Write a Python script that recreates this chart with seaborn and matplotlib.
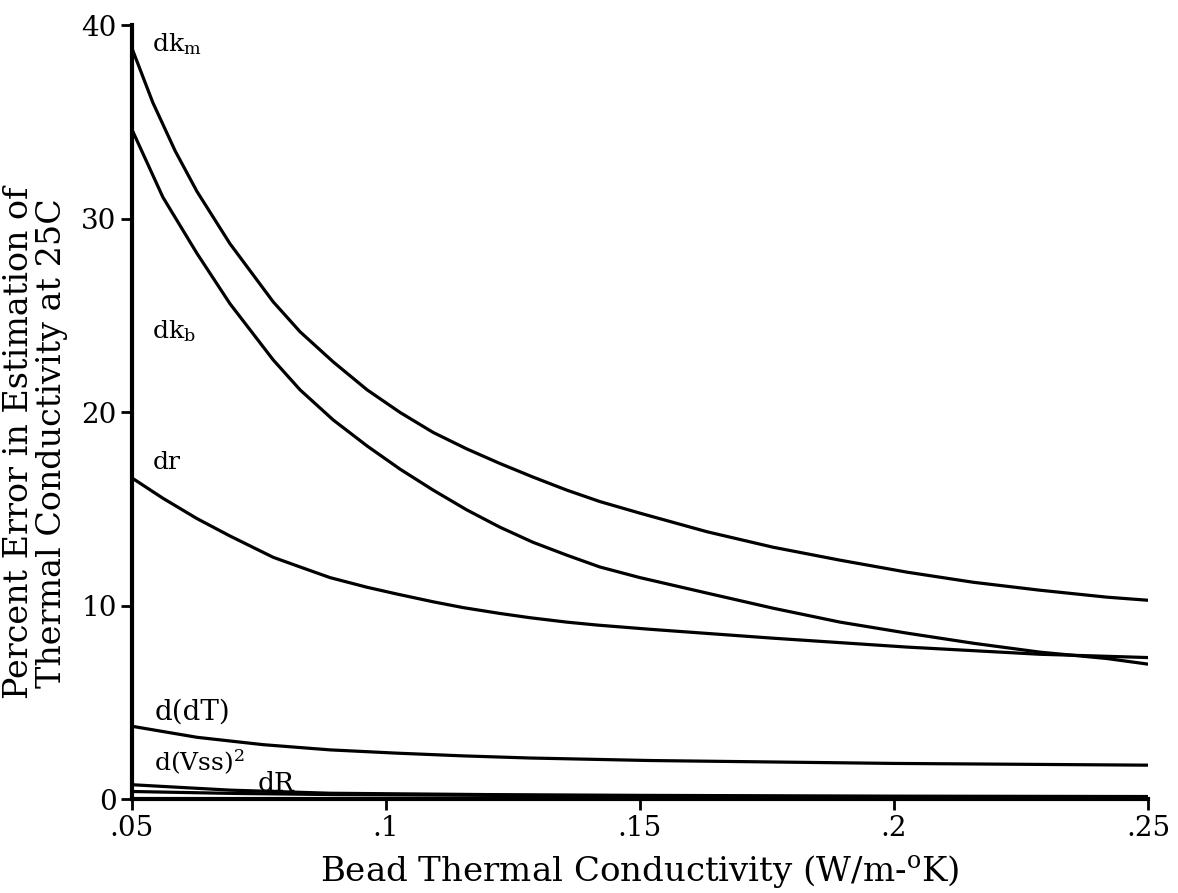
import matplotlib
matplotlib.use("Agg")
import matplotlib.pyplot as plt
import seaborn as sns
import pandas as pd

# ---- data ----
x_dkm = [0.050, 0.0541, 0.0585, 0.0628, 0.0693, 0.0778, 0.0831, 0.0896, 0.0963, 0.1028,
         0.1093, 0.1159, 0.1224, 0.1289, 0.1356, 0.1421, 0.1500, 0.1632, 0.1762, 0.1894,
         0.2026, 0.2156, 0.2287, 0.2419, 0.250]
dkm = [38.8, 36.0, 33.5, 31.4, 28.7, 25.7, 24.15, 22.6, 21.15, 19.98,
       18.95, 18.1, 17.35, 16.65, 15.97, 15.38, 14.78, 13.82, 13.02, 12.35,
       11.73, 11.21, 10.80, 10.44, 10.28]

x_dkb = [0.050, 0.0561, 0.0628, 0.0693, 0.0778, 0.0831, 0.0896, 0.0963, 0.1028, 0.1093,
         0.1159, 0.1224, 0.1289, 0.1356, 0.1421, 0.1500, 0.1632, 0.1762, 0.1894, 0.2026,
         0.2156, 0.2287, 0.2419, 0.250]
dkb = [34.6, 31.1, 28.2, 25.6, 22.7, 21.15, 19.6, 18.25, 17.05, 15.97,
       14.95, 14.06, 13.28, 12.61, 12.0, 11.45, 10.65, 9.87, 9.15, 8.58,
       8.06, 7.60, 7.27, 6.98]

x_dr = [0.050, 0.0561, 0.0628, 0.0693, 0.0778, 0.0831, 0.0890, 0.0963, 0.1022, 0.1093,
        0.1152, 0.1224, 0.1283, 0.1356, 0.1415, 0.1520, 0.1762, 0.2026, 0.2287, 0.250]
dr = [16.6, 15.55, 14.5, 13.6, 12.5, 12.0, 11.45, 10.95, 10.6, 10.2,
      9.9, 9.6, 9.38, 9.15, 9.0, 8.78, 8.32, 7.86, 7.49, 7.32]

x_ddT = [0.050, 0.0628, 0.0758, 0.0890, 0.1022, 0.1152, 0.1283, 0.1520, 0.2000, 0.250]
ddT = [3.77, 3.2, 2.82, 2.55, 2.38, 2.24, 2.13, 2.0, 1.85, 1.76]

x_dVss2 = [0.050, 0.0693, 0.0890, 0.120, 0.150, 0.200, 0.250]
dVss2 = [0.75, 0.47, 0.31, 0.24, 0.20, 0.16, 0.14]

x_dR = [0.050, 0.070, 0.090, 0.120, 0.150, 0.200, 0.250]
dR = [0.40, 0.30, 0.24, 0.20, 0.16, 0.12, 0.10]

series = {
    "dkm": (x_dkm, dkm),
    "dkb": (x_dkb, dkb),
    "dr": (x_dr, dr),
    "d(dT)": (x_ddT, ddT),
    "d(Vss)2": (x_dVss2, dVss2),
    "dR": (x_dR, dR),
}

x_ticks = [0.05, 0.10, 0.15, 0.20, 0.25]
x_ticklabels = [".05", ".1", ".15", ".2", ".25"]
y_ticks = [0, 10, 20, 30, 40]
y_ticklabels = ["0", "10", "20", "30", "40"]

sns.set_theme(style="ticks")
plt.rcParams["font.family"] = ["DejaVu Serif"]
plt.rcParams["mathtext.fontset"] = "dejavuserif"

fig = plt.figure(figsize=(11.78, 8.93), dpi=100)
ax = fig.add_axes([0.112, 0.105, 0.8625, 0.867])

rows = []
for name, (xs, ys) in series.items():
    for xv, yv in zip(xs, ys):
        rows.append({"k": xv, "err": yv, "series": name})
df = pd.DataFrame(rows)

for name in series:
    sub = df[df["series"] == name]
    sns.lineplot(data=sub, x="k", y="err", ax=ax, color="black", lw=2.3,
                 estimator=None, sort=True, legend=False)

ax.set_xlim(0.05, 0.25)
ax.set_ylim(0, 40)
ax.set_xticks(x_ticks)
ax.set_xticklabels(x_ticklabels)
ax.set_yticks(y_ticks)
ax.set_yticklabels(y_ticklabels)
ax.tick_params(axis="both", direction="out", length=8, width=2, labelsize=20,
               color="black", labelcolor="black", pad=3)
for s in ["top", "right"]:
    ax.spines[s].set_visible(False)
for s in ["left", "bottom"]:
    ax.spines[s].set_linewidth(3)
    ax.spines[s].set_color("black")

ax.set_xlabel("Bead Thermal Conductivity (W/m-$^{\\rm o}$K)", fontsize=24.5,
              labelpad=8, color="black")
ax.set_ylabel("Percent Error in Estimation of\nThermal Conductivity at 25C",
              fontsize=24, linespacing=1.05, color="black")
ax.yaxis.set_label_coords(-0.063, 0.46)

lab = dict(fontsize=18, color="black", va="center", ha="left")
ax.text(0.054, 39.0, "dk$_{\\rm m}$", **lab)
ax.text(0.054, 24.2, "dk$_{\\rm b}$", **lab)
ax.text(0.054, 17.4, "dr", **lab)
ax.text(0.0545, 4.5, "d(dT)", fontsize=20, color="black", va="center", ha="left")
ax.text(0.0543, 1.9, "d(Vss)$^2$", **lab)
ax.text(0.0748, 0.8, "dR", fontsize=19, color="black", va="center", ha="left")

fig.savefig("out.png", dpi=100, facecolor="white")
